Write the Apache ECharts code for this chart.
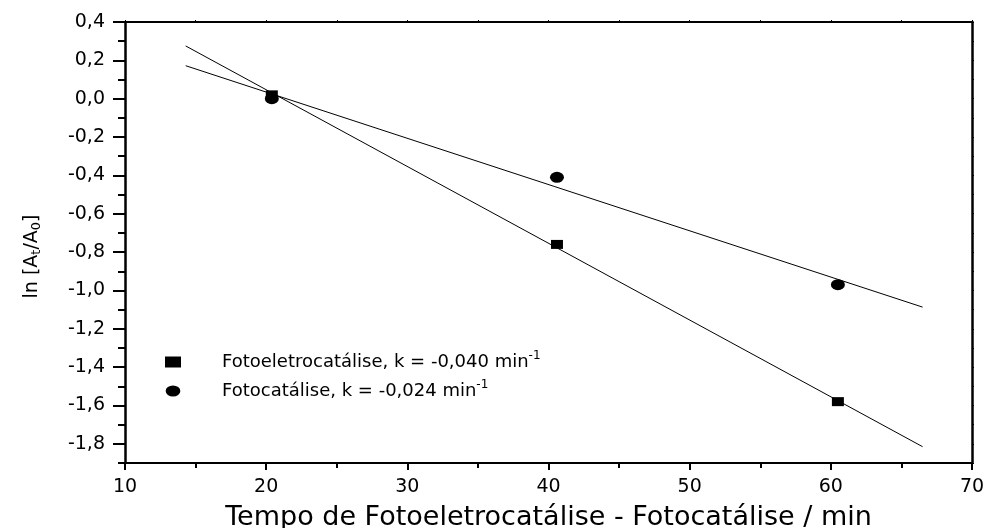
<!DOCTYPE html>
<html><head><meta charset="utf-8">
<script src="https://cdn.jsdelivr.net/npm/echarts@6/dist/echarts.min.js"></script>
<style>html,body{margin:0;padding:0;background:#fff}#c{width:988px;height:528px}</style>
</head><body><div id="c"></div>
<script>
// ---- data ----
const times = [20.4, 40.6, 60.5];
const fotoeletro = [0.02, -0.76, -1.58];
const foto = [0.00, -0.41, -0.97];
const fitX = [14.3, 66.5];
const fitFotoeletro = [0.275, -1.815];
const fitFoto = [0.172, -1.087];
const xTicks = [10, 20, 30, 40, 50, 60, 70];
const yTicks = [-1.8, -1.6, -1.4, -1.2, -1.0, -0.8, -0.6, -0.4, -0.2, 0.0, 0.2, 0.4];
const nameFotoeletro = 'Fotoeletrocatálise, k = -0,040 min';
const nameFoto = 'Fotocatálise, k = -0,024 min';

const FONT = 'DejaVu Sans';
const pairs = (xs, ys) => xs.map((x, i) => [x, ys[i]]);
const fmt = v => v.toFixed(1).replace('.', ',').replace(/^-0,0$/, '0,0');
const ELLIPSE = 'path://M0,6 A8,6 0 1,1 16,6 A8,6 0 1,1 0,6 Z';

const chart = echarts.init(document.getElementById('c'), null, {renderer: 'canvas'});
chart.setOption({
  animation: false,
  backgroundColor: '#fff',
  grid: {left: 125, right: 16, top: 22, bottom: 65, containLabel: false, outerBoundsMode: 'none'},
  legend: {
    orient: 'vertical', left: 160, top: 345, itemGap: 8,
    itemWidth: 16, itemHeight: 11,
    data: [{name: nameFotoeletro, icon: 'rect'}, {name: nameFoto, icon: ELLIPSE}],
    formatter: n => n + '{sup|-1}',
    itemStyle: {color: '#000', opacity: 1},
    textStyle: {
      fontFamily: FONT, fontSize: 18, color: '#000', padding: [0, 0, 0, 36],
      rich: {sup: {fontFamily: FONT, fontSize: 12, color: '#000', verticalAlign: 'top', padding: [0, 0, 12, 0]}}
    }
  },
  xAxis: [{
    type: 'value', position: 'bottom', min: xTicks[0], max: xTicks[xTicks.length - 1], interval: 10,
    name: 'Tempo de Fotoeletrocatálise - Fotocatálise / min',
    nameLocation: 'middle', nameGap: 41,
    nameTextStyle: {fontFamily: FONT, fontSize: 27, color: '#000'},
    axisLine: {show: true, onZero: false, lineStyle: {color: '#000', width: 2}},
    axisTick: {show: true, inside: false, length: 7, lineStyle: {color: '#000', width: 2}},
    minorTick: {show: true, splitNumber: 2, length: 5, lineStyle: {color: '#000', width: 2}},
    axisLabel: {fontFamily: FONT, fontSize: 19, color: '#000', margin: 15},
    splitLine: {show: false}
  }, {
    type: 'value', position: 'top', min: xTicks[0], max: xTicks[xTicks.length - 1], interval: 5,
    axisLine: {show: true, onZero: false, lineStyle: {color: '#000', width: 2}},
    axisTick: {show: true, length: 2, lineStyle: {color: '#000', width: 1}},
    axisLabel: {show: false}, splitLine: {show: false}
  }],
  yAxis: [{
    type: 'value', position: 'left', min: -1.9, max: 0.4,
    name: 'ln [A{sub|t}/A{sub|0}]', nameLocation: 'middle', nameGap: 82, nameRotate: 90,
    nameTextStyle: {fontFamily: FONT, fontSize: 19, color: '#000', padding: [0, 28, 0, 0],
      rich: {sub: {fontFamily: FONT, fontSize: 13, color: '#000', verticalAlign: 'bottom', padding: [9, 0, 0, 0]}}},
    axisLine: {show: true, onZero: false, lineStyle: {color: '#000', width: 2.5}},
    axisTick: {show: true, length: 12, customValues: yTicks, lineStyle: {color: '#000', width: 2}},
    axisLabel: {fontFamily: FONT, fontSize: 19, color: '#000', margin: 20, customValues: yTicks, formatter: fmt},
    splitLine: {show: false}
  }, {
    type: 'value', position: 'left', offset: 0, min: -1.9, max: 0.4, interval: 0.1,
    axisLine: {show: false, onZero: false},
    axisTick: {show: true, length: 7, lineStyle: {color: '#000', width: 2}},
    axisLabel: {show: false}, splitLine: {show: false}
  }, {
    type: 'value', position: 'right', min: -1.9, max: 0.4, interval: 0.1,
    axisLine: {show: true, onZero: false, lineStyle: {color: '#000', width: 2.5}},
    axisTick: {show: true, length: 2, lineStyle: {color: '#000', width: 1}},
    axisLabel: {show: false}, splitLine: {show: false}
  }],
  series: [
    {type: 'line', name: 'fitFoto', data: pairs(fitX, fitFoto), showSymbol: false, silent: true,
     lineStyle: {color: '#000', width: 1}, z: 1},
    {type: 'line', name: 'fitFotoeletro', data: pairs(fitX, fitFotoeletro), showSymbol: false, silent: true,
     lineStyle: {color: '#000', width: 1}, z: 1},
    {type: 'scatter', name: nameFoto, data: pairs(times, foto), symbol: 'circle', symbolSize: [14, 11],
     itemStyle: {color: '#000', opacity: 1}, z: 2},
    {type: 'scatter', name: nameFotoeletro, data: pairs(times, fotoeletro), symbol: 'rect', symbolSize: [12, 9],
     itemStyle: {color: '#000', opacity: 1}, z: 3}
  ]
});
</script></body></html>
